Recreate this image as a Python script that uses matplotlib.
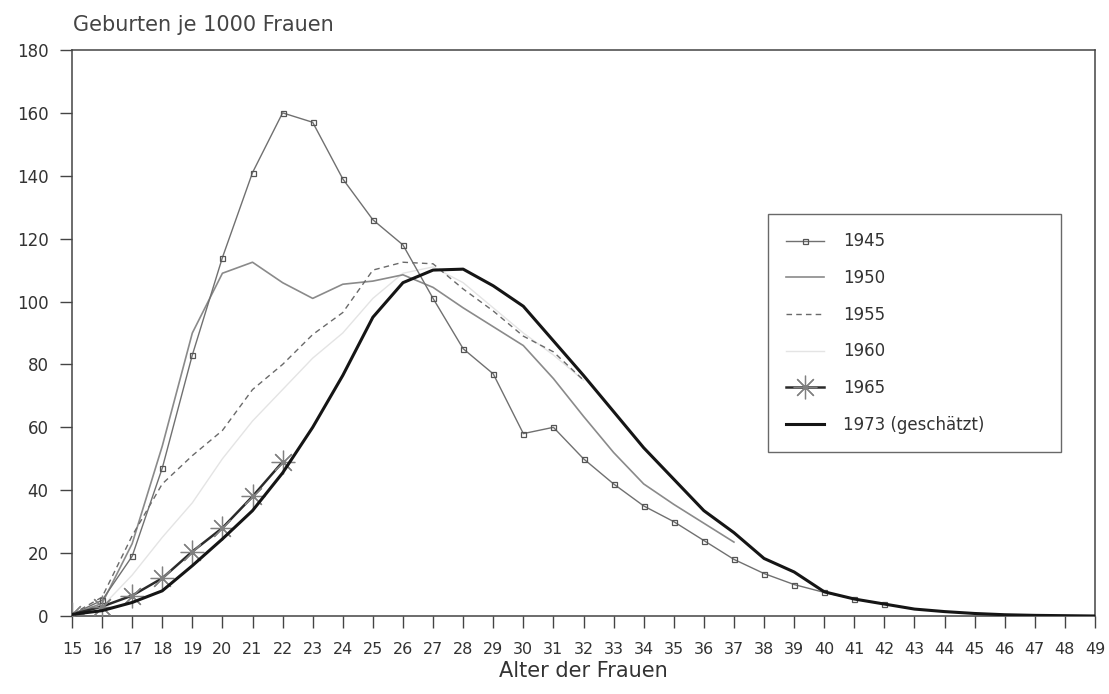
import matplotlib
matplotlib.use('Agg')
import matplotlib.pyplot as plt
import numpy as np

plt.rcParams['font.family'] = ['DejaVu Sans']

# Alter der Frauen
ages = list(range(15, 50))

# Geburten je 1000 Frauen
y1945 = [0.5, 5, 19, 47, 83, 114, 141, 160, 157, 139, 126, 118, 101, 85, 77,
         58, 60, 50, 42, 35, 30, 24, 18, 13.5, 10, 7.5, 5.4, 3.8]
y1950 = [0.5, 4, 23, 54, 90, 109, 112.5, 106, 101, 105.5, 106.5, 108.5, 104.5,
         98, 92, 86, 75.5, 63.5, 52, 42, 35.5, 29.5, 23.5]
y1955 = [0.5, 6, 25.5, 42, 51, 59, 72, 80, 89.5, 96.5, 110, 112.5, 112, 104,
         97, 89, 84, 75]
y1960 = [0.3, 3, 13, 25, 36, 50, 62, 72, 82, 90, 101, 109, 111, 106, 98, 90,
         83, 75]
y1965 = [0.5, 3, 6.5, 12, 20.5, 28, 38, 49]
y1973 = [0.5, 1.7, 4.3, 8, 16, 24.5, 33.5, 45.5, 60, 76.5, 95, 106, 110, 110.3,
         105, 98.5, 87.5, 76.5, 65, 53.5, 43.5, 33.5, 26.5, 18.3, 14, 7.7, 5.4,
         3.8, 2.2, 1.4, 0.8, 0.4, 0.2, 0.1, 0]

fig = plt.figure(figsize=(11.09, 6.94), dpi=100)
ax = fig.add_axes([0.0649, 0.1124, 0.9225, 0.8156])

ax.plot(ages[:len(y1945)], y1945, color='#707070', lw=1.0, marker='s', ms=3.6,
        mfc='none', mec='#555555', mew=0.9, label='1945', zorder=4)
ax.plot(ages[:len(y1950)], y1950, color='#8a8a8a', lw=1.2, label='1950', zorder=3)
ax.plot(ages[:len(y1955)], y1955, color='#6a6a6a', lw=1.0, ls=(0, (4, 3)),
        label='1955', zorder=3)
ax.plot(ages[:len(y1960)], y1960, color='#e4e4e4', lw=1.0, label='1960', zorder=2)
ax.plot(ages[:len(y1965)], y1965, color='#2a2a2a', lw=1.8, marker=(8, 2, 0),
        ms=17, mec='#808080', mew=0.9, label='1965', zorder=5)
ax.plot(ages, y1973, color='#151515', lw=2.2, label='1973 (geschätzt)', zorder=6)

ax.set_xlim(15, 49)
ax.set_ylim(0, 180)
ax.set_xticks(ages)
ax.set_yticks(range(0, 181, 20))
ax.tick_params(axis='both', direction='out', length=8.3, width=1.0,
               color='#444444', labelcolor='#333333')
ax.tick_params(axis='x', pad=10.5, labelsize=11.5)
ax.tick_params(axis='y', pad=8.5, labelsize=12)
for s in ax.spines.values():
    s.set_color('#444444')
    s.set_linewidth(1.1)

ax.set_xlabel('Alter der Frauen', fontsize=15, color='#333333', labelpad=3)
fig.text(73 / 1109, 1 - 25 / 694, 'Geburten je 1000 Frauen', fontsize=15,
         color='#444444', va='center', ha='left')

leg = ax.legend(loc='upper left', bbox_to_anchor=(0.680, 0.2915, 0.287, 0.4185),
                mode='expand', fontsize=12, frameon=True, fancybox=False,
                labelspacing=1.12, borderpad=1.1, handlelength=2.3,
                handletextpad=1.1, borderaxespad=0)
leg.get_frame().set_edgecolor('#444444')
leg.get_frame().set_linewidth(1.0)
for t in leg.get_texts():
    t.set_color('#333333')

fig.savefig('out.png', dpi=100, facecolor='white')
